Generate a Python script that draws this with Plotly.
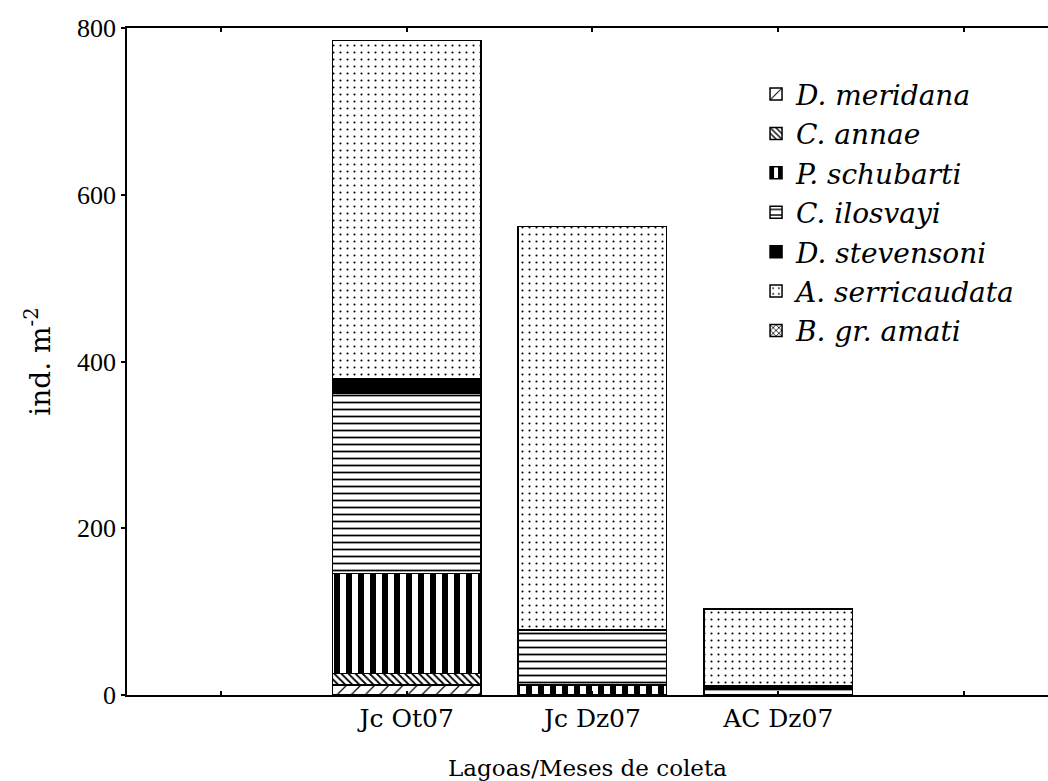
import plotly.graph_objects as go

# Sampling sites / months (positions 1..3 on the category axis)
sites = ["Jc Ot07", "Jc Dz07", "AC Dz07"]
site_pos = [1, 2, 3]

# Density per species (ind. m-2), stacked bottom to top
species = ["D. meridana", "C. annae", "P. schubarti", "C. ilosvayi",
           "D. stevensoni", "A. serricaudata", "B. gr. amati"]
d_meridana = [12, 0, 0]
c_annae = [14, 0, 0]
p_schubarti = [120, 12, 0]
c_ilosvayi = [216, 66, 7]
d_stevensoni = [17, 0, 4]
a_serricaudata = [406, 484, 92]
b_amati = [0, 0, 0]

values = [d_meridana, c_annae, p_schubarti, c_ilosvayi,
          d_stevensoni, a_serricaudata, b_amati]

# Fill pattern for each species: (shape, size, solidity, solid colour)
styles = [
    ("/", 10, 0.12, None),
    ("\\", 5, 0.35, None),
    ("|", 12, 0.5, None),
    ("-", 7, 0.25, None),
    ("", 8, 0.3, "black"),
    (".", 7, 0.07, None),
    ("x", 5, 0.35, None),
]

serif = "Liberation Serif"
wide_serif = "DejaVu Serif"

fig = go.Figure()
for name, vals, (shape, size, sol, solid) in zip(species, values, styles):
    if solid:
        marker = dict(color=solid, line=dict(color="black", width=1.5))
    else:
        marker = dict(
            color="white",
            line=dict(color="black", width=1.5),
            pattern=dict(shape=shape, size=size, solidity=sol,
                         fgcolor="black", bgcolor="white", fillmode="replace"),
        )
    fig.add_trace(go.Bar(x=site_pos, y=vals, name=name, width=0.8,
                         marker=marker))

fig.update_layout(
    width=1048, height=781,
    margin=dict(l=127, r=0, t=28, b=86),
    barmode="stack",
    plot_bgcolor="white", paper_bgcolor="white",
    font=dict(family=serif, color="black"),
    showlegend=True,
    legend=dict(
        x=0.683, y=0.938, xanchor="left", yanchor="top",
        traceorder="normal",
        font=dict(family=wide_serif, size=28, style="italic", color="black"),
        bgcolor="rgba(0,0,0,0)", itemwidth=30, tracegroupgap=0,
    ),
    xaxis=dict(
        range=[-0.505, 4.452],
        tickvals=site_pos,
        ticktext=sites,
        ticks="inside", ticklen=4, tickwidth=1.5, tickcolor="black",
        minor=dict(tickvals=[0, 4], ticks="inside", ticklen=4,
                   tickwidth=1.5, tickcolor="black", showgrid=False),
        showline=True, linecolor="black", linewidth=1.5, mirror="ticks",
        showgrid=False, zeroline=False,
        tickfont=dict(family=wide_serif, size=25, color="black"),
        title=dict(text="Lagoas/Meses de coleta",
                   font=dict(family=wide_serif, size=23, color="black"),
                   standoff=28),
    ),
    yaxis=dict(
        range=[0, 800],
        tickvals=[0, 200, 400, 600, 800],
        ticks="outside", ticklen=4, tickwidth=1.5, tickcolor="black",
        showline=True, linecolor="black", linewidth=1.5,
        showgrid=False, zeroline=False,
        tickfont=dict(family=serif, size=26, color="black"),
        title=dict(text="ind. m<sup>-2</sup>",
                   font=dict(family=wide_serif, size=28, color="black"),
                   standoff=18),
    ),
)

fig.write_html("out.html")
